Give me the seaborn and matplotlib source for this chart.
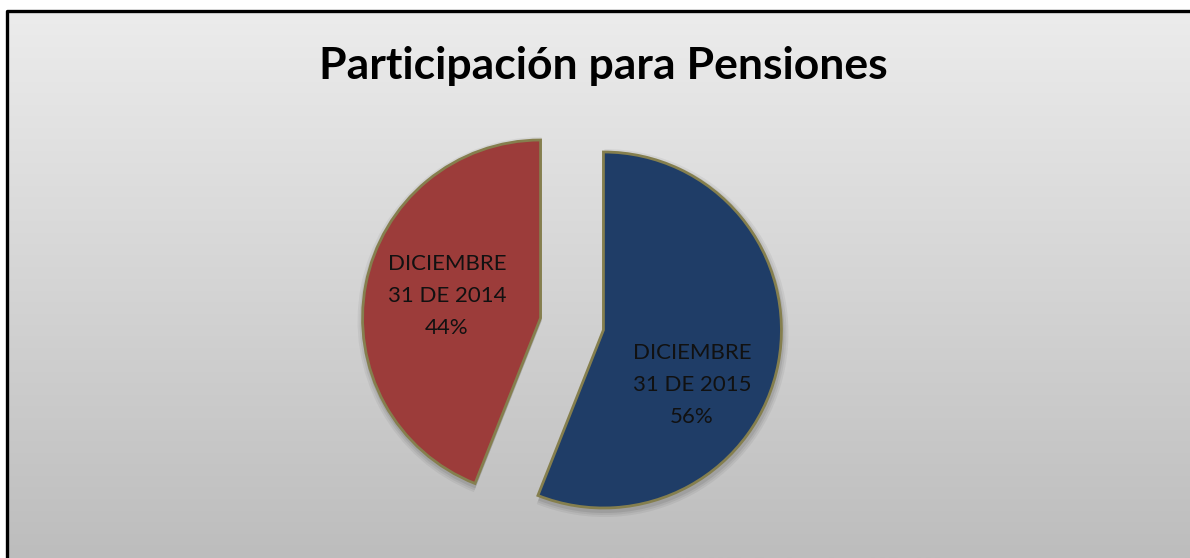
import numpy as np
import matplotlib.pyplot as plt
import seaborn as sns

# --- Data ---
labels = ["DICIEMBRE\n31 DE 2015", "DICIEMBRE\n31 DE 2014"]
shares = [56, 44]
slice_colors = ["#1f3d67", "#9c3c3a"]
title = "Participación para Pensiones"

sns.set_style("white")
plt.rcParams['font.family'] = ['Lato', 'DejaVu Sans']

W, H = 1190, 558
fig = plt.figure(figsize=(W / 100, H / 100), dpi=100)
ax = fig.add_axes([0, 0, 1, 1])

# chart area background: light grey vertical gradient
grad = np.linspace(0, 1, 256).reshape(-1, 1)
cmap = sns.blend_palette(["#bdbdbd", "#ececec"], as_cmap=True)
ax.imshow(grad, extent=[7, W, 0, H - 11], origin="lower", cmap=cmap,
          aspect="auto", zorder=0)

# black frame (only top and left edges fall inside the picture)
ax.plot([7, 7, W + 5], [-5, H - 11, H - 11], color="black", lw=2.4,
        solid_capstyle="butt", zorder=5)

center = (572, H - 324)
radius = 178
explode = [32, 32]  # offset in data (pixel) units

# soft drop shadow under the slices
for k, a in [(6, 0.05), (4, 0.06), (2, 0.08)]:
    sh, _ = ax.pie(shares, colors=["#000000"] * len(shares), startangle=90,
                   counterclock=False, explode=explode,
                   center=(center[0] + 1, center[1] - 3), radius=radius + k,
                   wedgeprops=dict(linewidth=0, alpha=a))

palette = sns.color_palette(slice_colors)
wedges, _ = ax.pie(
    shares,
    colors=palette,
    startangle=90,
    counterclock=False,
    explode=explode,
    center=center,
    radius=radius,
    wedgeprops=dict(edgecolor="#857f4e", linewidth=2),
)
ax.set_xlim(0, W)
ax.set_ylim(0, H)
ax.set_aspect("auto")
ax.axis("off")

# data labels
label_pos = [(692, H - 385), (447, H - 296)]
for lab, val, (x, y) in zip(labels, shares, label_pos):
    ax.text(x, y, f"{lab}\n{val}%", ha="center", va="center",
            fontsize=16, color="#111111", linespacing=1.75, zorder=6)

ax.text(603, H - 66, title, ha="center", va="center", fontsize=32,
        fontweight="bold", color="black", zorder=6)

fig.savefig("out.png", dpi=100, facecolor="white")
